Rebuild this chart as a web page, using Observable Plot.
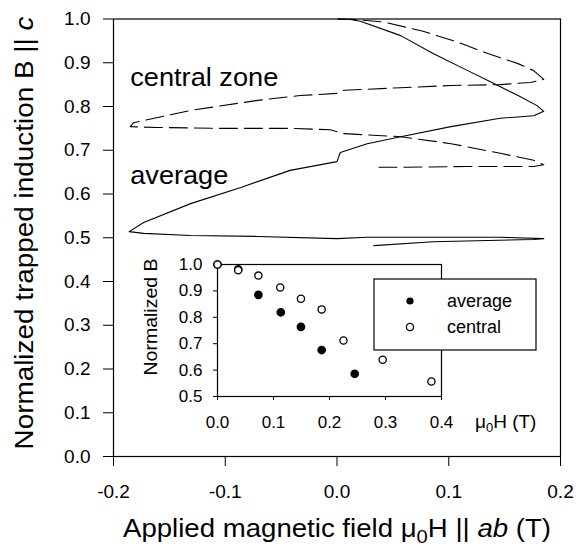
<!DOCTYPE html>
<html><head><meta charset="utf-8">
<script src="https://cdn.jsdelivr.net/npm/d3@7"></script>
<script src="https://cdn.jsdelivr.net/npm/@observablehq/plot@0.6"></script>
<style>
body{margin:0;background:#fff;}
#wrap{position:relative;width:576px;height:547px;overflow:hidden;}
#wrap svg{display:block;}
#inset{position:absolute;left:130px;top:250px;}
</style></head><body><div id="wrap"><div id="main"></div><div id="inset"></div></div>
<script>
// Main chart: "average" (solid) loop
const avgH = [0.001,0.012,0.021,0.057,0.086,0.117,0.140,0.162,0.179,0.185,0.176,0.146,0.102,0.057,0.027,0.003,0.002,0.000,-0.042,-0.086,-0.131,-0.173,-0.186,-0.173,-0.131,-0.071,0.000,0.027,0.086,0.146,0.185,0.176,0.086,0.033];
const avgB = [1.000,0.999,0.995,0.962,0.921,0.882,0.853,0.825,0.802,0.789,0.779,0.773,0.754,0.731,0.715,0.695,0.689,0.674,0.654,0.615,0.578,0.535,0.514,0.510,0.505,0.503,0.498,0.501,0.501,0.501,0.498,0.496,0.491,0.482];
// Main chart: "central zone" (dashed) loop
const cenH = [0.001,0.015,0.042,0.077,0.108,0.135,0.162,0.176,0.185,0.173,0.146,0.102,0.057,0.006,0.000,-0.033,-0.071,-0.131,-0.182,-0.185,-0.161,-0.102,-0.042,-0.006,0.006,0.057,0.102,0.146,0.176,0.185,0.176,0.117,0.057,0.033];
const cenB = [1.000,0.999,0.993,0.972,0.947,0.921,0.898,0.882,0.862,0.855,0.850,0.848,0.843,0.837,0.830,0.825,0.814,0.791,0.763,0.754,0.752,0.750,0.750,0.747,0.738,0.731,0.715,0.693,0.677,0.667,0.663,0.663,0.661,0.661];
// Inset points
const insetAvgH = [0.000,0.037,0.073,0.113,0.149,0.186,0.245];
const insetAvgB = [1.000,0.982,0.885,0.819,0.764,0.676,0.586];
const insetCenH = [0.000,0.037,0.073,0.112,0.149,0.186,0.225,0.295,0.382];
const insetCenB = [1.000,0.978,0.958,0.913,0.870,0.830,0.712,0.639,0.557];
// Ticks
const xTicks = [-0.2,-0.1,0.0,0.1,0.2];
const yTicks = [0.0,0.1,0.2,0.3,0.4,0.5,0.6,0.7,0.8,0.9,1.0];
const insetXTicks = [0.0,0.1,0.2,0.3,0.4];
const insetYTicks = [0.5,0.6,0.7,0.8,0.9,1.0];
// Curve labels
const labelText = ["central zone","average"];
const labelH = [-0.185,-0.185];
const labelB = [0.848,0.624];
const labelWidth = [148,98];

const font = "'Liberation Sans', Arial, Helvetica, sans-serif";
const fmt = d => d.toFixed(1);
const avg = avgH.map((h,i)=>({h, b: avgB[i]}));
const cen = cenH.map((h,i)=>({h, b: cenB[i]}));
const labels = labelText.map((t,i)=>({t, h: labelH[i], b: labelB[i]}));

const main = Plot.plot({
  width: 576, height: 547,
  marginLeft: 113, marginRight: 16, marginTop: 18.5, marginBottom: 91,
  style: {fontFamily: font, fontSize: "19px", color: "black", background: "white", overflow: "visible"},
  x: {domain: [-0.2, 0.2], ticks: xTicks, tickFormat: fmt, tickSize: 10, tickPadding: 18, label: null},
  y: {domain: [0, 1], ticks: yTicks, tickFormat: fmt, tickSize: 10, tickPadding: 13, label: null},
  marks: [
    Plot.frame({stroke: "black", strokeWidth: 1.2}),
    Plot.line(avg, {x: "h", y: "b", stroke: "black", strokeWidth: 1.1}),
    Plot.line(cen, {x: "h", y: "b", stroke: "black", strokeWidth: 1.1, strokeDasharray: "18,7"}),
    Plot.text(labels, {x: "h", y: "b", text: "t", textAnchor: "start", lineAnchor: "bottom", fontSize: 25, fill: "black"})
  ]
});
document.getElementById("main").appendChild(main);
const ms = d3.select(main);
ms.selectAll("text").each(function() {
  const i = labelText.indexOf(this.textContent);
  if (i >= 0) { this.setAttribute("textLength", labelWidth[i]); this.setAttribute("lengthAdjust", "spacingAndGlyphs"); }
});
ms.append("text").attr("transform","translate(33,233) rotate(-90)")
  .attr("text-anchor","middle").attr("font-size",26).attr("fill","black")
  .attr("textLength",433).attr("lengthAdjust","spacingAndGlyphs")
  .call(t => { t.append("tspan").text("Normalized trapped induction B || "); t.append("tspan").attr("font-style","italic").text("c"); });
ms.append("text").attr("x",337).attr("y",537)
  .attr("text-anchor","middle").attr("font-size",26).attr("fill","black")
  .attr("textLength",428).attr("lengthAdjust","spacingAndGlyphs")
  .call(t => {
    t.append("tspan").text("Applied magnetic field \u03bc");
    t.append("tspan").attr("font-size",19).attr("dy",6).text("0");
    t.append("tspan").attr("dy",-6).text("H || ");
    t.append("tspan").attr("font-style","italic").text("ab");
    t.append("tspan").text(" (T)");
  });

// Inset
const iA = insetAvgH.map((h,i)=>({h, b: insetAvgB[i]}));
const iC = insetCenH.map((h,i)=>({h, b: insetCenB[i]}));
const inset = Plot.plot({
  width: 410, height: 190,
  marginLeft: 87, marginRight: 99, marginTop: 14, marginBottom: 44,
  style: {fontFamily: font, fontSize: "17px", color: "black", background: "transparent", overflow: "visible"},
  x: {domain: [0, 0.4], ticks: insetXTicks, tickFormat: fmt, tickSize: 4, tickPadding: 15, label: null},
  y: {domain: [0.5, 1.0], ticks: insetYTicks, tickFormat: fmt, tickSize: 4, tickPadding: 11, label: null},
  marks: [
    Plot.frame({fill: "white", stroke: "black", strokeWidth: 1.2}),
    Plot.dot(iA, {x: "h", y: "b", r: 3.6, fill: "black", stroke: "black"}),
    Plot.dot(iC, {x: "h", y: "b", r: 3.6, fill: "white", stroke: "black", strokeWidth: 1.3})
  ]
});
document.getElementById("inset").appendChild(inset);
const is = d3.select(inset);
is.append("text").attr("transform","translate(27,67) rotate(-90)")
  .attr("text-anchor","middle").attr("font-size",19).attr("fill","black")
  .attr("textLength",117).attr("lengthAdjust","spacingAndGlyphs").text("Normalized B");
is.append("text").attr("x",345).attr("y",178).attr("text-anchor","start").attr("font-size",19).attr("fill","black")
  .call(t => {
    t.append("tspan").text("\u03bc");
    t.append("tspan").attr("font-size",13).attr("dy",4).text("0");
    t.append("tspan").attr("dy",-4).text("H (T)");
  });
// legend
const lg = is.append("g");
lg.append("rect").attr("x",244).attr("y",29).attr("width",162).attr("height",71)
  .attr("fill","white").attr("stroke","black").attr("stroke-width",1.2);
lg.append("circle").attr("cx",280).attr("cy",51).attr("r",3.6).attr("fill","black");
lg.append("circle").attr("cx",280).attr("cy",77).attr("r",3.6).attr("fill","white").attr("stroke","black").attr("stroke-width",1.3);
lg.append("text").attr("x",317).attr("y",51).attr("dy","0.35em").attr("text-anchor","start").attr("font-size",18).attr("fill","black").text("average");
lg.append("text").attr("x",317).attr("y",77).attr("dy","0.35em").attr("text-anchor","start").attr("font-size",18).attr("fill","black").text("central");
</script></body></html>
